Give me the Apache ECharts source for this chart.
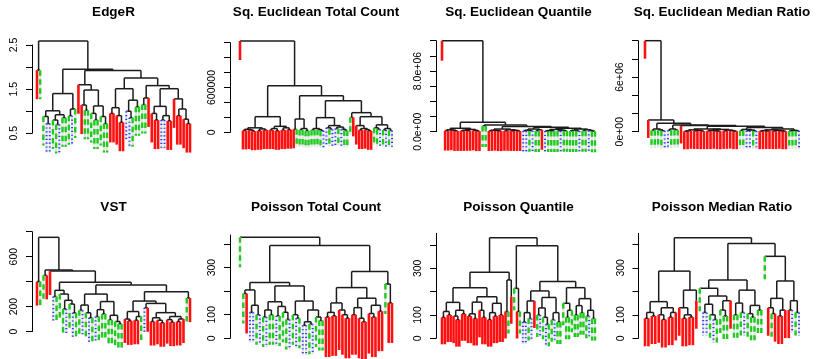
<!DOCTYPE html>
<html><head><meta charset="utf-8">
<script src="https://cdn.jsdelivr.net/npm/echarts@6/dist/echarts.min.js"></script>
<style>html,body{margin:0;padding:0;background:#fff}#c{width:818px;height:359px}</style>
</head><body><div id="c"></div>
<script>
// ---------------- DATA ----------------
const titles = ['EdgeR', 'Sq. Euclidean Total Count', 'Sq. Euclidean Quantile', 'Sq. Euclidean Median Ratio',
                'VST', 'Poisson Total Count', 'Poisson Quantile', 'Poisson Median Ratio'];

// trees: [mergeHeight, left, right]; leaves: 'r' | 'g' | 'b' (class), or ['r', leafHeight]
const treeEdgeR =
[2.59,
  [1.93, 'r', 'g'],
  [1.95,
    [1.40,
      [1.01, [0.88, 'g', [0.72, 'b', 'b']], [0.92, [0.80, 'g', [0.70, 'g', 'b']], [0.85, 'g', 'g']]],
      [1.05, [0.90, 'g', 'b'], 'g']],
    [1.92,
      [1.60, 'r', [1.48, [1.14, 'r', [1.02, 'g', 'g']], [1.12, [0.95, 'g', [0.80, 'g', 'g']], [0.88, 'g', [0.72, 'g', 'g']]]]],
      [1.75,
        [1.51, [1.08, [0.95, 'r', 'r'], [0.90, 'r', [0.75, 'r', 'r']]], [1.25, [1.00, 'b', [0.85, 'b', 'g']], [1.10, 'g', 'g']]],
        [1.58, [1.30, [1.15, 'g', 'g'], 'r'],
          [1.51, [1.11, [0.95, 'r', [0.80, 'r', 'r']], [0.90, [0.80, 'b', 'b'], [0.78, 'r', 'r']]],
                 [1.28, 'r', [1.05, [0.90, 'r', 'r'], [0.82, 'r', [0.72, 'r', 'r']]]]]]]]]];

const treeSqTC =
[1.223e6, 'r',
  [6.24e5,
    [2.09e5,
      [6.0e4, [4.0e4, [2.5e4, 'r', 'r'], [3.0e4, 'r', [1.5e4, 'r', 'r']]], [4.5e4, [2.0e4, 'r', 'r'], [3.0e4, 'r', 'r']]],
      [8.0e4, [5.0e4, [3.0e4, 'r', 'r'], [2.0e4, 'r', 'r']], [6.0e4, [3.0e4, 'r', 'r'], [3.5e4, 'r', 'r']]]],
    [4.9e5,
      [1.78e5, [4.0e4, 'r', 'g'], [5.0e4, [3.0e4, 'g', 'g'], [2.0e4, 'g', 'g']]],
      [4.23e5,
        [1.96e5, [5.0e4, [3.0e4, 'g', 'g'], [3.5e4, 'g', [2.0e4, 'g', 'b']]],
                 [9.0e4, [6.0e4, 'b', [4.0e4, 'g', 'b']], [7.0e4, [5.0e4, 'b', 'g'], [4.0e4, 'b', [2.5e4, 'g', 'g']]]]],
        [2.63e5, [2.0e5, 'g', 'r'],
          [2.09e5, [9.0e4, 'r', [5.0e4, [3.0e4, 'r', 'r'], [3.5e4, 'r', [2.0e4, 'r', 'r']]]],
                   [1.0e5, [6.0e4, 'g', [4.0e4, 'g', 'b']], [5.0e4, [3.0e4, 'g', 'b'], [2.5e4, 'g', 'b']]]]]]]]];

const treeSqQ =
[1.2e7, 'r',
  [1.24e6,
    [4.5e5, [2.5e5, [1.5e5, 'r', 'r'], [2.0e5, 'r', [1.0e5, 'r', 'r']]], [3.0e5, [2.0e5, [1.0e5, 'r', 'r'], [1.2e5, 'r', 'r']], [1.8e5, 'r', [8.0e4, 'r', 'r']]]],
    [8.8e5, [7.5e5, 'g', 'g'],
      [7.0e5,
        [3.5e5, [2.0e5, [1.0e5, 'r', 'r'], [1.5e5, 'r', [8.0e4, 'r', 'r']]], [2.5e5, [1.2e5, 'r', 'r'], [1.8e5, [1.0e5, 'r', 'r'], [9.0e4, 'r', 'r']]]],
        [5.8e5,
          [3.5e5, [2.0e5, [1.0e5, 'b', 'b'], [1.2e5, 'g', 'b']], [2.5e5, [1.0e5, 'g', 'g'], 'r']],
          [4.5e5, [3.0e5, [1.5e5, [8.0e4, 'b', 'g'], [1.0e5, 'g', 'g']], [2.0e5, [1.0e5, 'g', 'b'], [1.2e5, 'g', 'g']]],
                  [3.5e5, [2.0e5, [1.0e5, 'g', 'g'], [8.0e4, 'g', 'b']], [2.5e5, [1.2e5, 'g', 'g'], [1.5e5, 'b', [6.0e4, 'g', 'g']]]]]]]]]];

const treeSqMR =
[1.0e7, 'r',
  [1.29e6, 'r',
    [9.2e5,
      [3.0e5, [1.5e5, 'g', 'g'], [2.0e5, 'g', [1.0e5, 'g', 'b']]],
      [7.3e5,
        [3.0e5, [1.5e5, 'b', 'g'], [2.0e5, 'g', 'g']],
        [6.8e5, 'r',
          [6.0e5,
            [3.0e5, [2.0e5, [1.0e5, [5.0e4, 'r', 'r'], 'r'], [1.5e5, [8.0e4, 'r', 'r'], [6.0e4, 'r', 'r']]],
                    [2.5e5, [1.5e5, [7.0e4, 'r', 'r'], [1.0e5, 'r', [5.0e4, 'r', 'r']]], [1.8e5, [9.0e4, 'r', 'r'], [1.2e5, 'r', [6.0e4, 'r', 'r']]]]],
            [4.5e5,
              [2.5e5, [1.2e5, 'g', 'g'], [1.8e5, [1.0e5, 'b', 'b'], [8.0e4, 'g', 'b']]],
              [3.0e5, [2.0e5, [1.2e5, [6.0e4, 'r', 'r'], [8.0e4, 'r', 'r']], [1.5e5, [7.0e4, 'r', 'r'], [1.0e5, 'r', [5.0e4, 'r', 'r']]]],
                      [1.5e5, [8.0e4, 'g', 'g'], [1.0e5, 'g', 'b']]]]]]]]]];

const treeVST =
[755, [400, 'r', 'g'],
  [493, [450, 'g', 'r'],
    [485, 'r',
      [394,
        [330, [280, 'b', 'g'], [300, 'g', [250, [180, 'g', 'b'], [220, 'g', [150, 'b', 'g']]]]],
        [373,
          [300, [212, [170, 'g', 'b'], [150, 'g', [110, 'b', 'g']]], [240, [175, [120, 'b', 'g'], [140, 'g', 'g']], [130, [95, 'g', 'g'], [80, 'g', [60, 'g', 'g']]]]],
          [319,
            [244, [160, [100, 'r', [85, 'r', 'r']], [120, [90, 'r', 'r'], 'g']],
              [225, [190, 'b', 'r'], [151, [110, [80, 'r', 'r'], [90, 'r', [70, 'r', 'r']]], [120, [95, 'r', [75, 'r', 'r']], [100, [80, 'r', 'r'], 'r']]]]],
            [268, 'g', 'r']]]]]]];

const treePTC =
[428, 'g',
  [393,
    [237,
      [205, [190, 'g', 'r'], [140, [110, 'b', 'b'], [100, 'g', 'b']]],
      [222,
        [155, [120, [90, 'g', 'b'], [100, 'g', 'g']], [135, [95, 'b', 'g'], [110, 'g', [80, 'g', 'b']]]],
        [158, [100, 'g', [85, 'b', 'g']], [120, [70, [55, 'b', 'b'], [60, 'g', 'b']], [90, 'g', [75, 'g', 'g']]]]]],
    [283,
      [215,
        [150, [110, [90, 'r', 'r'], [95, 'r', 'r']], [120, 'r', [100, 'r', [85, 'r', 'r']]]],
        [170, [130, [100, 'r', 'r'], [85, 'r', [70, 'r', 'r']]], [140, [105, 'r', [90, 'r', 'r']], [115, 'r', 'r']]]],
      [230, 'g', [150, 'r', 'r']]]]];

const treePQ =
[431,
  [283,
    [217,
      [154, [115, [90, 'r', 'r'], [100, 'r', 'r']], [120, [95, 'r', [80, 'r', 'r']], [105, 'r', 'r']]],
      [178, [155, [105, [95, 'r', 'r'], [85, 'r', 'r']], [120, 'r', [90, 'r', 'r']]], [150, [110, [80, 'r', 'r'], [95, 'r', 'r']], [100, 'r', 'r']]]],
    [250, [115, 'r', 'g'], ['r', 178]]],
  [397,
    [214, 'g', [115, 'r', 'g']],
    [243,
      [203, [160, [110, [70, 'b', 'b'], [85, 'g', 'b']], 'r'], [175, [130, [100, 'g', 'b'], [90, 'g', [60, 'b', 'g']]], [110, [80, 'g', 'b'], [70, 'g', 'g']]]],
      [217, [150, 'g', [120, [90, 'g', 'g'], 'g']], [170, [140, [100, 'g', 'g'], [110, 'g', 'g']], [120, [95, 'g', 'b'], [85, 'g', 'g']]]]]]];

const treePMR =
[428,
  [286,
    [156, [110, [85, 'r', 'r'], [95, 'r', 'r']], [130, [100, 'r', [80, 'r', 'r']], [110, [90, 'r', 'r'], 'r']]],
    [205, [130, 'r', [100, [85, 'r', 'r'], [90, 'r', 'r']]], ['r', 160]]],
  [404,
    [248,
      [213, 'g', [180, [145, [110, 'b', 'b'], [100, 'g', [80, 'b', 'g']]], [160, [120, 'g', [95, 'g', 'g']], 'r']]],
      [205, [150, [100, 'g', 'g'], [110, 'g', 'b']], [140, [105, 'g', [90, 'g', 'g']], [120, 'g', 'g']]]],
    [349, 'g',
      [244, [170, [130, 'r', [105, 'g', 'r']], [120, [95, 'r', 'r'], 'r']], [160, [120, 'r', 'b'], [110, 'g', 'b']]]]]];

const trees = [treeEdgeR, treeSqTC, treeSqQ, treeSqMR, treeVST, treePTC, treePQ, treePMR];

const yMin = [0.5, 0, 0, 0, 0, 0, 0, 0];
const yMax = [2.5, 1.2e6, 1.2e7, 1e7, 800, 438, 450, 447];
const yTicks = [
  [0.5, 1, 1.5, 2, 2.5],
  [0, 2e5, 4e5, 6e5, 8e5, 1e6, 1.2e6],
  [0, 2e6, 4e6, 6e6, 8e6, 1e7, 1.2e7],
  [0, 2e6, 4e6, 6e6, 8e6, 1e7],
  [0, 200, 400, 600, 800],
  [0, 100, 200, 300, 400],
  [0, 100, 200, 300, 400],
  [0, 100, 200, 300, 400]];
const yLabelValues = [[0.5, 1.5, 2.5], [0, 6e5], [0, 8e6], [0, 6e6], [0, 200, 600], [0, 100, 300], [0, 100, 300], [0, 100, 300]];
const yLabelTexts = [['0.5', '1.5', '2.5'], ['0', '600000'], ['0.0e+00', '8.0e+06'], ['0e+00', '6e+06'],
                     ['0', '200', '600'], ['0', '100', '300'], ['0', '100', '300'], ['0', '100', '300']];

// ---------------- LAYOUT / STYLE ----------------
const layout = [
  {l: 37,  r: 190, t: 45,    b: 133.3, off: 5,   ty: 12.5, drop: [29, 29]},
  {l: 240, r: 392, t: 42.7,  b: 132.3, off: 10,  ty: 12.5, drop: [19, 17]},
  {l: 442, r: 595, t: 40.7,  b: 131.7, off: 6,   ty: 12.5, drop: [20, 21]},
  {l: 645, r: 799, t: 40.7,  b: 131.7, off: 7,   ty: 12.5, drop: [18, 18]},
  {l: 37,  r: 190, t: 231.7, b: 331.5, off: 5,   ty: 207,  drop: [24, 24]},
  {l: 240, r: 392, t: 235,   b: 338.3, off: 10,  ty: 207,  drop: [40, 30]},
  {l: 442, r: 595, t: 233.3, b: 338.3, off: 6,   ty: 207,  drop: [27, 22]},
  {l: 645, r: 799, t: 233.3, b: 338.3, off: 6.5, ty: 207,  drop: [28, 23]}];

const leafStyle = {
  r: {code: 1, stroke: '#ff1010', lineWidth: 2.6, lineDash: null},
  g: {code: 2, stroke: '#1ecb1e', lineWidth: 2.4, lineDash: [5.5, 3.5]},
  b: {code: 3, stroke: '#2a3cff', lineWidth: 2.0, lineDash: [1.2, 2.6]}};
const codeStyle = {1: leafStyle.r, 2: leafStyle.g, 3: leafStyle.b};

// build segments from a tree: [x1, y1, x2, y2, type]
function buildSegments(tree) {
  const segs = []; let n = 0;
  function walk(node) {
    if (typeof node === 'string') { n++; return {x: n, leaf: node}; }
    if (typeof node[0] === 'string') { n++; return {x: n, leaf: node[0], lh: node[1]}; }
    const h = node[0];
    const A = walk(node[1]), B = walk(node[2]);
    segs.push([A.x, h, B.x, h, 0]);
    [A, B].forEach(C => {
      if (C.leaf) {
        let top = h;
        if (C.lh !== undefined) { segs.push([C.x, h, C.x, C.lh, 0]); top = C.lh; }
        segs.push([C.x, top, C.x, top, leafStyle[C.leaf].code]);
      } else {
        segs.push([C.x, h, C.x, C.h, 0]);
      }
    });
    return {x: (A.x + B.x) / 2, h: h};
  }
  walk(tree);
  return {segs, n};
}

const grids = [], xAxes = [], yAxes = [], series = [], graphics = [];
trees.forEach((tree, i) => {
  const L = layout[i];
  const {segs, n} = buildSegments(tree);
  grids.push({left: L.l, top: L.t, width: L.r - L.l, height: L.b - L.t});
  xAxes.push({type: 'value', gridIndex: i, min: 1, max: n, show: false});
  const labVals = yLabelValues[i], labTxt = yLabelTexts[i];
  yAxes.push({
    type: 'value', gridIndex: i, min: yMin[i], max: yMax[i], offset: L.off,
    splitLine: {show: false},
    axisLine: {show: true, lineStyle: {color: '#000', width: 1}},
    axisTick: {show: true, length: 6, lineStyle: {color: '#000', width: 1}, customValues: yTicks[i]},
    axisLabel: {
      show: true, rotate: 90, margin: 12, color: '#000', fontSize: 10.5,
      fontFamily: '"Liberation Sans", Arial, sans-serif',
      customValues: labVals,
      formatter: v => { const k = labVals.findIndex(a => Math.abs(a - v) < 1e-9 * Math.max(1, Math.abs(a))); return k >= 0 ? labTxt[k] : ''; }
    }
  });
  series.push({
    type: 'custom', xAxisIndex: i, yAxisIndex: i, clip: false, silent: true,
    data: segs,
    encode: {x: 0, y: 1},
    renderItem: (params, api) => {
      const t = api.value(4);
      const p1 = api.coord([api.value(0), api.value(1)]);
      if (t === 0) {
        const p2 = api.coord([api.value(2), api.value(3)]);
        return {type: 'line', shape: {x1: p1[0], y1: p1[1], x2: p2[0], y2: p2[1]},
                style: {stroke: '#1c1c1c', lineWidth: 1.5}};
      }
      const st = codeStyle[t];
      const d = t === 1 ? L.drop[0] : L.drop[1];
      const shape = {x1: p1[0], y1: p1[1], x2: p1[0], y2: p1[1] + d};
      const children = [];
      if (t !== 1) children.push({type: 'line', shape: shape, style: {stroke: '#e4e4e4', lineWidth: 2.2}});
      children.push({type: 'line', shape: shape, style: {stroke: st.stroke, lineWidth: st.lineWidth, lineDash: st.lineDash}});
      return {type: 'group', children};
    }
  });
  graphics.push({
    type: 'text', x: (L.l + L.r) / 2, y: L.ty,
    style: {text: titles[i], fill: '#000', fontSize: 13.5, fontWeight: 'bold',
            fontFamily: '"Liberation Sans", Arial, sans-serif', align: 'center', verticalAlign: 'middle'}
  });
});

const chart = echarts.init(document.getElementById('c'), null, {renderer: 'canvas'});
chart.setOption({
  animation: false,
  backgroundColor: '#fff',
  grid: grids, xAxis: xAxes, yAxis: yAxes, series: series,
  graphic: graphics
});
</script>
</body></html>
